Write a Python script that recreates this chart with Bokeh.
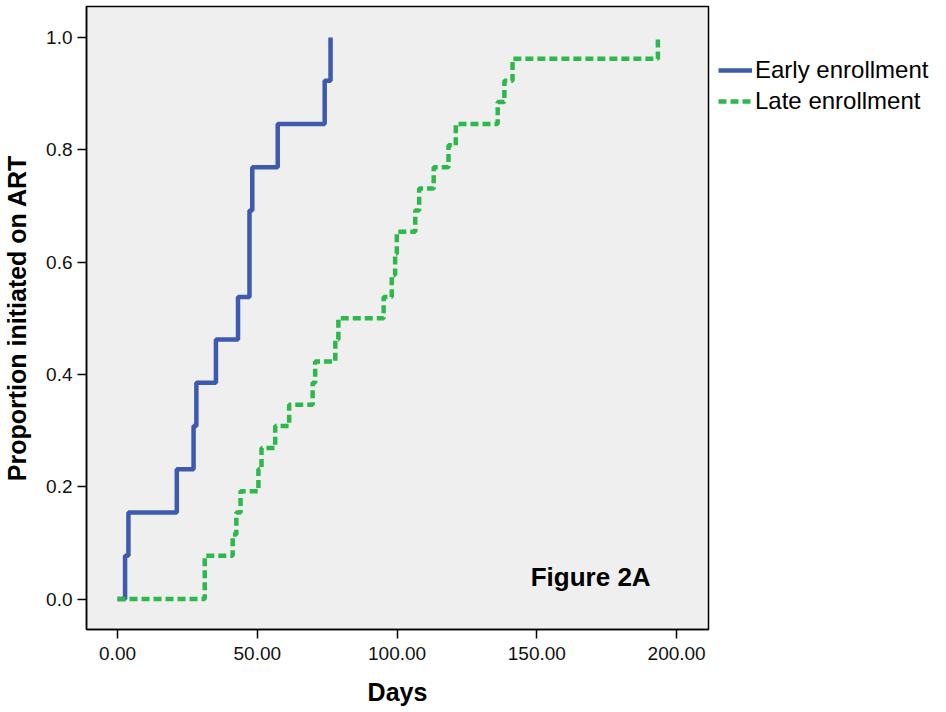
from bokeh.plotting import figure
from bokeh.models import (Range1d, FixedTicker, NumeralTickFormatter, Legend,
                          LegendItem, Label)
from bokeh.embed import file_html
from bokeh.resources import INLINE

# ---- data ----
early_days = [0, 2.7, 3.9, 21.2, 27.2, 28.2, 35.2, 43.1, 47.2, 48.2, 57.3, 74.1, 76.2]
early_prop = [0.0, 0.077, 0.154, 0.231, 0.308, 0.385, 0.462, 0.538, 0.692, 0.769,
              0.846, 0.923, 1.0]

late_days = [0, 31.2, 41.2, 42.5, 44.0, 50.4, 51.5, 56.4, 61.4, 69.8, 70.7, 77.9,
             79.0, 95.2, 98.1, 99.3, 99.9, 106.5, 107.9, 113.1, 118.4, 121.0,
             136.0, 138.4, 141.3, 193.3]
late_prop = [0.0, 0.077, 0.115, 0.154, 0.192, 0.231, 0.269, 0.308, 0.346, 0.385,
             0.423, 0.462, 0.5, 0.538, 0.577, 0.615, 0.654, 0.692, 0.731, 0.769,
             0.808, 0.846, 0.885, 0.923, 0.962, 1.0]

series_names = ["Early enrollment", "Late enrollment"]
x_ticks = [0, 50, 100, 150, 200]
y_ticks = [0.0, 0.2, 0.4, 0.6, 0.8, 1.0]
x_title = "Days"
y_title = "Proportion initiated on ART"
panel_note = "Figure 2A"

BLUE = "#3D5AAE"
GREEN = "#2DB84C"
FONT = "Liberation Sans"

p = figure(frame_width=622, frame_height=623, output_backend="svg",
           toolbar_location=None,
           x_range=Range1d(-11.1, 211.4), y_range=Range1d(-0.0543, 1.0552),
           min_border_left=77, min_border_right=20, min_border_top=6,
           min_border_bottom=80)

p.background_fill_color = "#EFEFEF"
p.border_fill_color = "white"
p.outline_line_color = "black"
p.outline_line_width = 1.5
p.grid.visible = False

r1 = p.step(early_days, early_prop, mode="after", line_color=BLUE, line_width=4.5)
r2 = p.step(late_days, late_prop, mode="after", line_color=GREEN, line_width=4.5,
            line_dash="8 4")

# axes
p.xaxis.ticker = FixedTicker(ticks=x_ticks)
p.xaxis.formatter = NumeralTickFormatter(format="0.00")
p.yaxis.ticker = FixedTicker(ticks=y_ticks)
p.yaxis.formatter = NumeralTickFormatter(format="0.0")
for ax in (p.xaxis, p.yaxis):
    ax.major_label_text_font = FONT
    ax.major_label_text_font_size = "19px"
    ax.major_label_text_color = "#111111"
    ax.axis_label_text_font = FONT
    ax.axis_label_text_font_size = "25px"
    ax.axis_label_text_font_style = "bold"
    ax.axis_label_text_color = "black"
    ax.major_tick_out = 9
    ax.major_tick_in = 0
    ax.minor_tick_line_color = None
    ax.axis_line_width = 1.5
    ax.major_tick_line_width = 1.5
    ax.axis_line_color = "black"
    ax.major_tick_line_color = "black"
p.xaxis.axis_label = x_title
p.yaxis.axis_label = y_title
p.xaxis.major_label_standoff = 8
p.yaxis.major_label_standoff = 5
p.xaxis.axis_label_standoff = 15
p.yaxis.axis_label_standoff = 12

p.add_layout(Label(x=147.8, y=0.039, text=panel_note, text_font=FONT,
                   text_font_size="26px", text_font_style="bold",
                   text_color="black", text_baseline="alphabetic"))

legend = Legend(items=[LegendItem(label=series_names[0], renderers=[r1]),
                       LegendItem(label=series_names[1], renderers=[r2])],
                location="top_left", margin=10, padding=0, spacing=3,
                title=" ", title_text_font_size="16px", title_standoff=22,
                glyph_width=34, glyph_height=22, label_height=28,
                label_standoff=3, label_text_font=FONT,
                label_text_font_size="24px", label_text_color="black",
                border_line_color=None, background_fill_alpha=0)
p.add_layout(legend, "right")

open("out.html", "w").write(file_html(p, INLINE))
